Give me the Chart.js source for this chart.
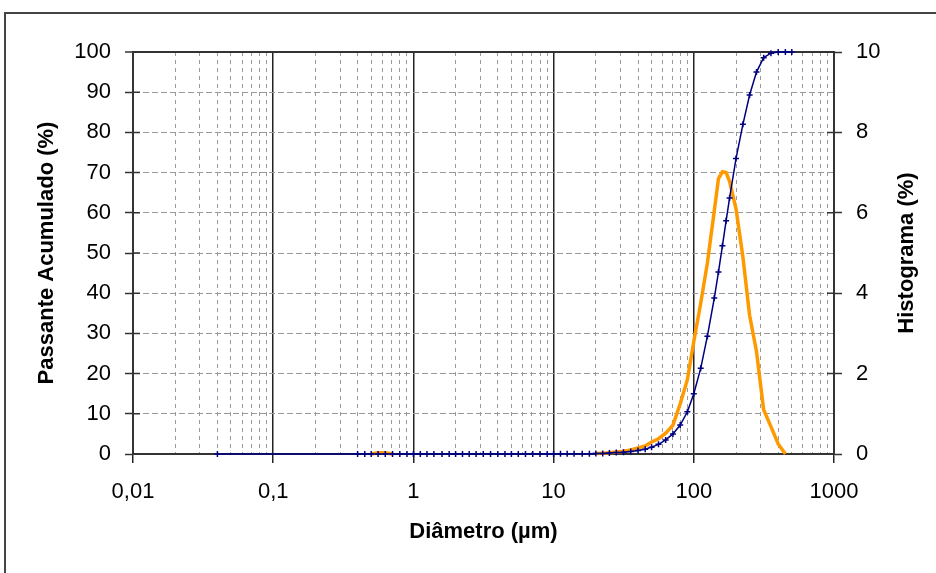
<!DOCTYPE html>
<html lang="pt">
<head>
<meta charset="utf-8">
<title>Distribuição granulométrica</title>
<script src="https://cdn.jsdelivr.net/npm/chart.js@4.4.1/dist/chart.umd.min.js"></script>
<style>
  html, body { margin: 0; padding: 0; background: #fff; }
  #wrap { position: relative; width: 936px; height: 573px; }
</style>
</head>
<body>
<div id="wrap"><canvas id="psdChart" width="936" height="573"></canvas></div>
<script>
// --- DATA ---
const diameters = [
    0.04, 0.4, 0.45, 0.5, 0.56, 0.63, 0.71, 0.8, 0.9,
    1, 1.12, 1.25, 1.4, 1.6, 1.8, 2, 2.24, 2.5, 2.8,
    3.15, 3.55, 4, 4.5, 5, 5.6, 6.3, 7.1, 8, 9,
    10, 11.2, 12.5, 14, 16, 18, 20, 22.4, 25, 28,
    31.5, 35.5, 40, 45, 50, 56, 63, 71, 80, 90,
    100, 112, 125, 140, 150, 160, 170, 180, 200, 224,
    250, 280, 315, 355, 400, 450, 500
];

// cumulative passing (%), left axis
const passingCum = [
    0, 0, 0, 0, 0, 0, 0, 0, 0,
    0, 0, 0, 0, 0, 0, 0, 0, 0, 0,
    0, 0, 0, 0, 0, 0, 0, 0, 0, 0,
    0, 0.05, 0.05, 0.05, 0.05, 0.05, 0.1, 0.15, 0.25, 0.35,
    0.45, 0.6, 0.85, 1.2, 1.7, 2.4, 3.5, 5.0, 7.2, 10.5,
    15, 21.3, 29.3, 38.8, 45.3, 51.8, 58, 63.7, 73.5, 82,
    89.3, 95, 98.6, 99.7, 100, 100, 100
];

// histogram (%), right axis - null where no line is drawn
const histogram = [
    null, null, null, 0, 0.03, 0.03, 0, null, null,
    null, null, null, null, null, null, null, null, null, null,
    null, null, null, null, null, null, null, null, null, null,
    null, null, null, null, null, null, 0.01, 0.02, 0.03, 0.05,
    0.07, 0.1, 0.15, 0.2, 0.3, 0.38, 0.52, 0.72, 1.25, 1.85,
    2.8, 3.75, 4.75, 6.05, 6.85, 7.02, 7.0, 6.78, 6.1, 4.9,
    3.45, 2.55, 1.1, 0.68, 0.25, 0, null
];

const xMajorTicks = [0.01, 0.1, 1, 10, 100, 1000];
const xTickLabels = ['0,01', '0,1', '1', '10', '100', '1000'];
const xMinorSteps = [2, 3, 4, 5, 6, 7, 8, 9];

// --- LAYOUT ---
const PLOT = { left: 133, top: 52, right: 834, bottom: 454 };
const FONT = "'Liberation Sans', Arial, sans-serif";

Chart.defaults.font.family = FONT;
Chart.defaults.font.size = 22;
Chart.defaults.color = '#000';

const toPoints = (ys) => diameters.map((d, i) => ({ x: d, y: ys[i] }));

const majorIndex = (v) => xMajorTicks.findIndex(m => Math.abs(Math.log10(v) - Math.log10(m)) < 1e-6);
const isMajor = (c) => !c.tick || majorIndex(c.tick.value) >= 0;

// grid positions: every decade plus 2..9 between them
const xGridTicks = [];
xMajorTicks.forEach((m, i) => {
    xGridTicks.push(m);
    if (i < xMajorTicks.length - 1) xMinorSteps.forEach(s => xGridTicks.push(m * s));
});

// outer frame (cut by the right and bottom edges, like the screenshot)
const framePlugin = {
    id: 'frame',
    beforeDraw(chart) {
        const ctx = chart.ctx;
        ctx.save();
        ctx.fillStyle = '#fff';
        ctx.fillRect(0, 0, chart.width, chart.height);
        ctx.strokeStyle = '#444';
        ctx.lineWidth = 2;
        ctx.strokeRect(5, 13, chart.width + 20, chart.height + 20);
        ctx.restore();
    }
};

// inner halves of the y tick marks (ticks cross the axes)
const innerTicks = {
    id: 'innerTicks',
    beforeDatasetsDraw(chart) {
        const { ctx, chartArea: a, scales: { y, y1 } } = chart;
        ctx.save();
        ctx.strokeStyle = '#333';
        ctx.lineWidth = 1.5;
        ctx.beginPath();
        y.ticks.forEach(t => {
            const p = y.getPixelForValue(t.value);
            ctx.moveTo(a.left, p);
            ctx.lineTo(a.left + 7, p);
        });
        y1.ticks.forEach(t => {
            const p = y1.getPixelForValue(t.value);
            ctx.moveTo(a.right - 7, p);
            ctx.lineTo(a.right, p);
        });
        ctx.stroke();
        ctx.restore();
    }
};

// right axis title reads bottom-to-top, Chart.js would rotate it the other way
const rightTitle = {
    id: 'rightTitle',
    afterDraw(chart) {
        const { ctx, chartArea: a, scales: { y1 } } = chart;
        ctx.save();
        ctx.translate(y1.right - 29, (a.top + a.bottom) / 2);
        ctx.rotate(-Math.PI / 2);
        ctx.font = 'bold 22px ' + FONT;
        ctx.fillStyle = '#000';
        ctx.textAlign = 'center';
        ctx.textBaseline = 'middle';
        ctx.fillText('Histograma (%)', 0, 0);
        ctx.restore();
    }
};

const ctx = document.getElementById('psdChart').getContext('2d');
const psdChart = new Chart(ctx, {
    type: 'line',
    data: {
        datasets: [{
            label: 'Passante Acumulado (%)',
            data: toPoints(passingCum),
            yAxisID: 'y',
            borderColor: '#000080',
            borderWidth: 1.5,
            pointStyle: 'cross',
            pointRadius: 3,
            pointBorderColor: '#000080',
            pointBorderWidth: 1.5,
            tension: 0,
            order: 0,
            clip: false
        }, {
            label: 'Histograma (%)',
            data: toPoints(histogram),
            yAxisID: 'y1',
            borderColor: '#ff9900',
            borderWidth: 3.5,
            pointRadius: 0,
            tension: 0,
            spanGaps: false,
            order: 1,
            clip: false
        }]
    },
    options: {
        responsive: false,
        animation: false,
        devicePixelRatio: 1,
        layout: { padding: { left: 0, right: 0, top: PLOT.top, bottom: 0 } },
        plugins: {
            legend: { display: false },
            tooltip: { enabled: true }
        },
        scales: {
            x: {
                type: 'logarithmic',
                min: 0.01,
                max: 1000,
                afterBuildTicks: (s) => { s.ticks = xGridTicks.map(v => ({ value: v })); },
                afterFit: (s) => { s.height = 573 - PLOT.bottom; },
                ticks: {
                    autoSkip: false,
                    maxRotation: 0,
                    padding: 16,
                    callback: (v) => {
                        const i = majorIndex(v);
                        return i >= 0 ? xTickLabels[i] : '';
                    }
                },
                grid: {
                    color: c => isMajor(c) ? '#222' : '#9a9a9a',
                    lineWidth: c => isMajor(c) ? 1.5 : 1,
                    tickColor: c => isMajor(c) ? '#222' : 'rgba(0,0,0,0)',
                    tickWidth: 1.5,
                    tickLength: 9
                },
                border: {
                    color: '#333',
                    width: 2,
                    dash: c => isMajor(c) ? [] : [4, 4]
                },
                title: {
                    display: true,
                    text: 'Diâmetro (µm)',
                    font: { weight: 'bold', size: 22 },
                    padding: { top: 0, bottom: 28 }
                }
            },
            y: {
                position: 'left',
                min: 0,
                max: 100,
                afterFit: (s) => { s.width = PLOT.left; },
                ticks: { stepSize: 10, padding: 14 },
                grid: {
                    color: c => {
                        if (!c.tick) return '#333';
                        if (c.tick.value === 100) return '#333';
                        if (c.tick.value === 0) return 'rgba(0,0,0,0)';
                        return '#9a9a9a';
                    },
                    lineWidth: c => (c.tick && c.tick.value === 100) ? 2 : 1,
                    tickColor: '#333',
                    tickWidth: 1.5,
                    tickLength: 8
                },
                border: {
                    color: '#333',
                    width: 2,
                    dash: c => (c.tick && c.tick.value > 0 && c.tick.value < 100) ? [6, 3] : []
                },
                title: {
                    display: true,
                    text: 'Passante Acumulado (%)',
                    font: { weight: 'bold', size: 22 },
                    padding: { top: 34, bottom: 0 }
                }
            },
            y1: {
                position: 'right',
                min: 0,
                max: 10,
                afterFit: (s) => { s.width = 936 - PLOT.right; },
                ticks: { stepSize: 2, padding: 14 },
                grid: {
                    drawOnChartArea: false,
                    tickColor: '#333',
                    tickWidth: 1.5,
                    tickLength: 8
                },
                border: { color: '#333', width: 2 }
            }
        }
    },
    plugins: [framePlugin, innerTicks, rightTitle]
});
</script>
</body>
</html>
